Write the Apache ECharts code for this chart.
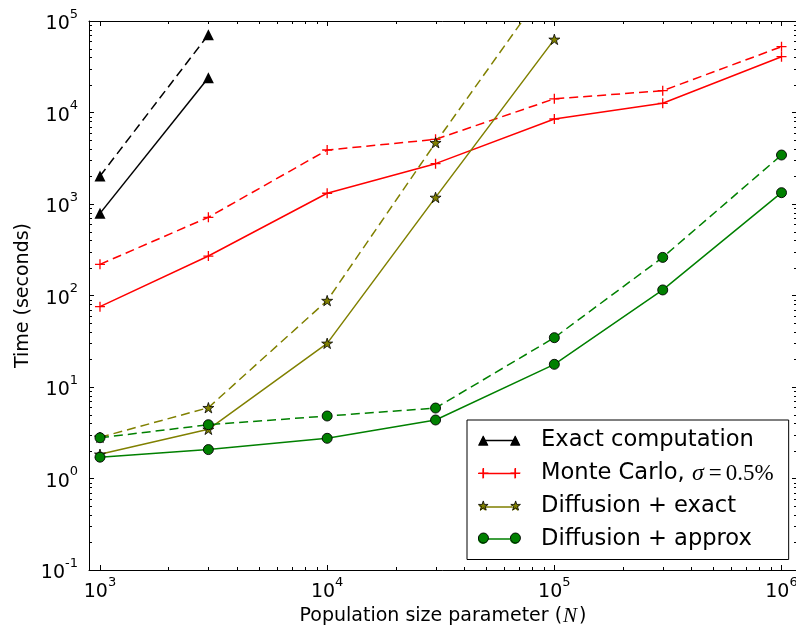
<!DOCTYPE html>
<html>
<head>
<meta charset="utf-8">
<script src="https://cdn.jsdelivr.net/npm/echarts@6/dist/echarts.min.js"></script>
<style>
html, body { margin: 0; padding: 0; background: #ffffff; }
#chart { width: 796px; height: 627px; }
</style>
</head>
<body>
<div id="chart"></div>
<script>
// ---- data ----
const populationN = [1e3, 3e3, 1e4, 3e4, 1e5, 3e5, 1e6];

const exactSolid = [790, 24000];
const exactDashed = [2020, 70800];

const monteCarloSolid = [75.5, 270, 1310, 2760, 8490, 12600, 40700];
const monteCarloDashed = [219, 716, 3890, 5090, 14100, 17300, 52400];

const diffExactSolid = [1.84, 3.45, 30, 1180, 63000];
const diffExactDashed = [2.82, 5.94, 88, 4680, 310000];

const diffApproxSolid = [1.71, 2.07, 2.75, 4.36, 17.7, 115, 1330];
const diffApproxDashed = [2.79, 3.87, 4.82, 5.89, 34.6, 261, 3430];

const seriesNames = ['Exact computation', 'Monte Carlo, σ=0.5%', 'Diffusion + exact', 'Diffusion + approx'];

// minor tick positions (2..9 x 10^k)
const xMinorTicks = [2e3, 3e3, 4e3, 5e3, 6e3, 7e3, 8e3, 9e3,
                     2e4, 3e4, 4e4, 5e4, 6e4, 7e4, 8e4, 9e4,
                     2e5, 3e5, 4e5, 5e5, 6e5, 7e5, 8e5, 9e5];
const yMinorTicks = [0.2, 0.3, 0.4, 0.5, 0.6, 0.7, 0.8, 0.9,
                     2, 3, 4, 5, 6, 7, 8, 9,
                     20, 30, 40, 50, 60, 70, 80, 90,
                     200, 300, 400, 500, 600, 700, 800, 900,
                     2000, 3000, 4000, 5000, 6000, 7000, 8000, 9000,
                     20000, 30000, 40000, 50000, 60000, 70000, 80000, 90000];

// ---- helpers ----
function pairs(xs, ys) { return ys.map((v, i) => [xs[i], v]); }

const OLIVE = '#808000';
const GREEN = '#008000';
const RED = '#ff0000';
const BLACK = '#000000';
const FONT = 'DejaVu Sans';

const STAR = 'path://M50,0L38.8,34.5L2.4,34.5L31.8,55.9L20.6,90.5L50,69.1L79.4,90.5L68.2,55.9L97.6,34.5L61.2,34.5Z';
const PLUS = 'path://M0,5L10,5M5,0L5,10';

function powLabel(v) {
  const l = Math.log10(v);
  const e = Math.round(l);
  if (Math.abs(l - e) > 1e-6) return '';
  return '{b|10}{s|' + (e < 0 ? '-' + (-e) : e) + '}';
}
const tickRich = {
  b: { fontSize: 19, fontFamily: FONT, color: BLACK, lineHeight: 26, verticalAlign: 'bottom' },
  s: { fontSize: 13, fontFamily: FONT, color: BLACK, lineHeight: 13, verticalAlign: 'top' }
};

function lineSeries(name, ys, dashed, color, symbol, size, itemStyle) {
  return {
    type: 'line',
    name: name,
    data: pairs(populationN, ys),
    xAxisIndex: 0, yAxisIndex: 0,
    symbol: symbol,
    symbolSize: size,
    symbolKeepAspect: true,
    showSymbol: true,
    clip: true,
    lineStyle: { color: color, width: 1.5, type: dashed ? [9, 5] : 'solid' },
    itemStyle: itemStyle,
    emphasis: { disabled: true },
    animation: false
  };
}

const triStyle = { color: BLACK, borderWidth: 0 };
const plusStyle = { color: RED, borderColor: RED, borderWidth: 1.3 };
const starStyle = { color: OLIVE, borderColor: BLACK, borderWidth: 0.8 };
const circStyle = { color: GREEN, borderColor: BLACK, borderWidth: 0.9 };

// legend icons (42 x 10 boxes): line + two markers
const iconLine = 'M5,4.35L37,4.35L37,5.65L5,5.65Z';
const iconTriangles = 'M0,10L5,0L10,10Z M32,10L37,0L42,10Z';
const iconPluses = 'M0,4.4L10,4.4L10,5.6L0,5.6Z M4.4,0L5.6,0L5.6,10L4.4,10Z M32,4.4L42,4.4L42,5.6L32,5.6Z M36.4,0L37.6,0L37.6,10L36.4,10Z';
const iconStars = 'M5,0L3.88,3.45L0.24,3.45L3.18,5.59L2.06,9.05L5,6.91L7.94,9.05L6.82,5.59L9.76,3.45L6.12,3.45Z M37,0L35.88,3.45L32.24,3.45L35.18,5.59L34.06,9.05L37,6.91L39.94,9.05L38.82,5.59L41.76,3.45L38.12,3.45Z';
const iconCircles = 'M0,5A5,5,0,1,0,10,5A5,5,0,1,0,0,5Z M32,5A5,5,0,1,0,42,5A5,5,0,1,0,32,5Z';

const legendCommon = {
  orient: 'vertical',
  left: 467,
  top: 420,
  itemWidth: 42,
  itemHeight: 10,
  itemGap: 9.5,
  padding: [9, 15, 9, 11],
  selectedMode: false,
  symbolKeepAspect: true,
  textStyle: {
    fontFamily: FONT, fontSize: 22.6, color: BLACK, lineHeight: 23,
    padding: [0, 0, 0, 16],
    rich: {
      n: { fontFamily: FONT, fontSize: 22.6, color: BLACK, lineHeight: 23 },
      g: { fontFamily: 'Liberation Serif', fontStyle: 'italic', fontSize: 24, color: BLACK, lineHeight: 23 },
      e: { fontFamily: 'Liberation Serif', fontSize: 23, color: BLACK, lineHeight: 23, padding: [0, 4, 0, 5] },
      m: { fontFamily: 'Liberation Serif', fontSize: 23, color: BLACK, lineHeight: 23 }
    }
  }
};

const option = {
  backgroundColor: '#ffffff',
  animation: false,
  grid: { left: 89, top: 21, width: 708, height: 549, outerBoundsMode: 'none', containLabel: false },
  xAxis: [
    {
      type: 'log', logBase: 10, min: 894.6, max: 1.17e6, position: 'bottom',
      axisLine: { show: true, onZero: false, lineStyle: { color: BLACK, width: 1 } },
      axisTick: { show: true, inside: true, length: 5, lineStyle: { color: BLACK, width: 1 } },
      minorTick: { show: false },
      splitLine: { show: false },
      axisLabel: { show: true, margin: 6, formatter: powLabel, rich: tickRich, showMinLabel: true, showMaxLabel: true },
      name: '{t|Population size parameter (}{i|N}{t|)}',
      nameLocation: 'middle',
      nameGap: 36,
      nameMoveOverlap: false,
      nameTextStyle: {
        rich: {
          t: { fontFamily: FONT, fontSize: 19, color: BLACK },
          i: { fontFamily: 'Liberation Serif', fontStyle: 'italic', fontSize: 21, color: BLACK, padding: [0, 2, 0, 1] }
        }
      }
    },
    {
      type: 'log', logBase: 10, min: 894.6, max: 1.17e6, position: 'top',
      axisLine: { show: true, onZero: false, lineStyle: { color: BLACK, width: 1 } },
      axisTick: { show: true, inside: true, length: 5, lineStyle: { color: BLACK, width: 1 } },
      axisLabel: { show: false },
      splitLine: { show: false }
    }
  ],
  yAxis: [
    {
      type: 'log', logBase: 10, min: 0.1, max: 1e5, position: 'left',
      axisLine: { show: true, onZero: false, lineStyle: { color: BLACK, width: 1 } },
      axisTick: { show: true, inside: true, length: 5, lineStyle: { color: BLACK, width: 1 } },
      minorTick: { show: false },
      splitLine: { show: false },
      axisLabel: { show: true, margin: 11, formatter: powLabel, rich: tickRich },
      name: 'Time (seconds)',
      nameLocation: 'middle',
      nameGap: 56,
      nameMoveOverlap: false,
      nameTextStyle: { fontFamily: FONT, fontSize: 19, color: BLACK }
    },
    {
      type: 'log', logBase: 10, min: 0.1, max: 1e5, position: 'right',
      axisLine: { show: true, onZero: false, lineStyle: { color: BLACK, width: 1 } },
      axisTick: { show: true, inside: true, length: 5, lineStyle: { color: BLACK, width: 1 } },
      axisLabel: { show: false },
      splitLine: { show: false }
    }
  ],
  legend: [
    Object.assign({}, legendCommon, {
      z: 10,
      backgroundColor: '#ffffff',
      borderColor: BLACK,
      borderWidth: 1,
      borderRadius: 0,
      itemStyle: { borderWidth: 0 },
      formatter: function (name) {
        if (name === seriesNames[1]) return '{n|Monte Carlo, }{g|σ}{e|=}{m|0.5%}';
        return name;
      },
      data: [
        { name: seriesNames[0], icon: 'path://' + iconLine + ' ' + iconTriangles, itemStyle: { color: BLACK, borderWidth: 0 } },
        { name: seriesNames[1], icon: 'path://' + iconLine + ' ' + iconPluses, itemStyle: { color: RED, borderWidth: 0 } },
        { name: seriesNames[2], icon: 'path://' + iconLine + ' ' + iconStars, itemStyle: { color: OLIVE, borderWidth: 0 } },
        { name: seriesNames[3], icon: 'path://' + iconLine + ' ' + iconCircles, itemStyle: { color: GREEN, borderWidth: 0 } }
      ]
    }),
    Object.assign({}, legendCommon, {
      z: 11,
      backgroundColor: 'transparent',
      borderWidth: 0,
      formatter: function () { return ' '; },
      data: [
        { name: seriesNames[0], icon: 'path://' + iconTriangles, itemStyle: { color: BLACK, borderWidth: 0 } },
        { name: seriesNames[1], icon: 'path://' + iconPluses, itemStyle: { color: RED, borderWidth: 0 } },
        { name: seriesNames[2], icon: 'path://' + iconStars, itemStyle: { color: OLIVE, borderColor: BLACK, borderWidth: 0.8 } },
        { name: seriesNames[3], icon: 'path://' + iconCircles, itemStyle: { color: GREEN, borderColor: BLACK, borderWidth: 0.9 } }
      ]
    })
  ],
  series: [
    lineSeries(seriesNames[0], exactSolid, false, BLACK, 'triangle', 11, triStyle),
    lineSeries(seriesNames[0], exactDashed, true, BLACK, 'triangle', 11, triStyle),
    lineSeries(seriesNames[1], monteCarloSolid, false, RED, PLUS, 10, plusStyle),
    lineSeries(seriesNames[1], monteCarloDashed, true, RED, PLUS, 10, plusStyle),
    lineSeries(seriesNames[2], diffExactSolid, false, OLIVE, STAR, 11, starStyle),
    lineSeries(seriesNames[2], diffExactDashed, true, OLIVE, STAR, 11, starStyle),
    lineSeries(seriesNames[3], diffApproxSolid, false, GREEN, 'circle', 10, circStyle),
    lineSeries(seriesNames[3], diffApproxDashed, true, GREEN, 'circle', 10, circStyle),
    {
      type: 'custom', name: 'xMinor', xAxisIndex: 0, yAxisIndex: 0, silent: true, clip: false,
      data: xMinorTicks.map(v => [v, 1]),
      encode: { x: 0, y: 1 },
      renderItem: function (params, api) {
        const p = api.coord([api.value(0), api.value(1)]);
        const cs = params.coordSys;
        const x = Math.round(p[0]) + 0.5;
        const b = cs.y + cs.height, t = cs.y;
        return { type: 'group', children: [
          { type: 'line', shape: { x1: x, y1: b, x2: x, y2: b - 3 }, style: { stroke: BLACK, lineWidth: 1 } },
          { type: 'line', shape: { x1: x, y1: t, x2: x, y2: t + 3 }, style: { stroke: BLACK, lineWidth: 1 } }
        ] };
      }
    },
    {
      type: 'custom', name: 'yMinor', xAxisIndex: 0, yAxisIndex: 0, silent: true, clip: false,
      data: yMinorTicks.map(v => [1000, v]),
      encode: { x: 0, y: 1 },
      renderItem: function (params, api) {
        const p = api.coord([api.value(0), api.value(1)]);
        const cs = params.coordSys;
        const y = Math.round(p[1]) + 0.5;
        const l = cs.x, r = cs.x + cs.width;
        return { type: 'group', children: [
          { type: 'line', shape: { x1: l, y1: y, x2: l + 3, y2: y }, style: { stroke: BLACK, lineWidth: 1 } },
          { type: 'line', shape: { x1: r, y1: y, x2: r - 3, y2: y }, style: { stroke: BLACK, lineWidth: 1 } }
        ] };
      }
    }
  ]
};

const chart = echarts.init(document.getElementById('chart'), null, { renderer: 'canvas' });
chart.setOption(option);
</script>
</body>
</html>
